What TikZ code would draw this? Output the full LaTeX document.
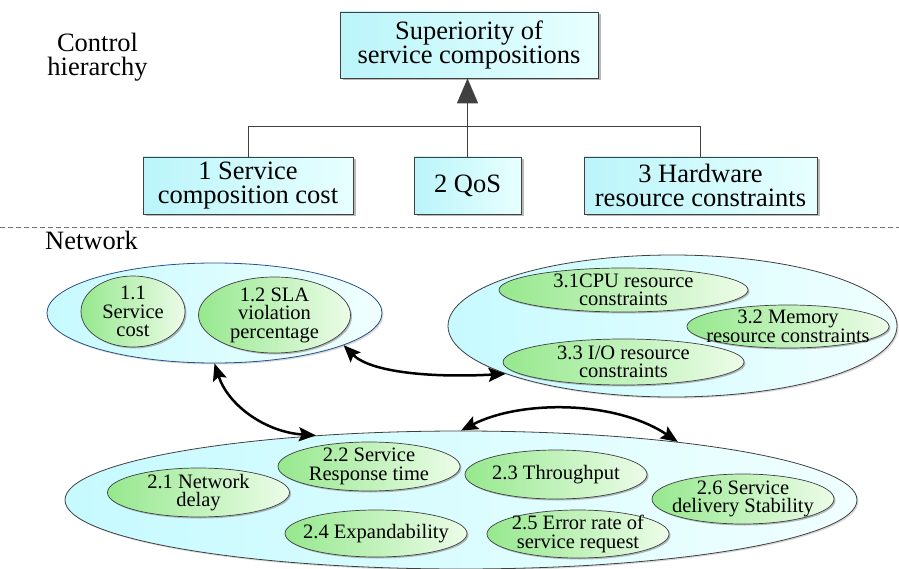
\documentclass[tikz,border=0pt]{standalone}
\usepackage{fontspec}
\setmainfont{Liberation Serif}
\usetikzlibrary{arrows.meta,shadows,shapes.geometric}
\definecolor{boxL}{RGB}{186,245,250}
\definecolor{boxR}{RGB}{232,255,255}
\definecolor{bigL}{RGB}{198,250,255}
\definecolor{bigR}{RGB}{240,255,255}
\definecolor{grnL}{RGB}{150,232,142}
\definecolor{grnR}{RGB}{236,252,232}
\definecolor{blueedge}{RGB}{40,80,140}
\begin{document}
\begin{tikzpicture}[x=1pt,y=-1pt,
  hbox/.style={rectangle, draw=black!75, line width=0.8pt, left color=boxL, right color=boxR,
    inner sep=0pt, align=center, font=\fontsize{26.5}{24}\selectfont,
    drop shadow={shadow xshift=2.5pt, shadow yshift=-2.5pt, fill=black!45, opacity=0.6}},
  bigell/.style={ellipse, draw=black!75, line width=0.8pt, left color=bigL, right color=bigR, inner sep=0pt,
    drop shadow={shadow xshift=1.5pt, shadow yshift=-1.5pt, fill=black!30, opacity=0.5}},
  grnell/.style={ellipse, draw=black!75, line width=0.7pt, left color=grnL, right color=grnR, inner sep=0pt,
    drop shadow={shadow xshift=1.5pt, shadow yshift=-1.5pt, fill=black!45, opacity=0.6}},
  etext/.style={align=center, inner sep=0pt, font=\fontsize{20.5}{18.5}\selectfont},
  lbl/.style={align=center, inner sep=0pt, font=\fontsize{26.5}{24}\selectfont},
  linkline/.style={draw=black!75, line width=0.8pt},
  uparrow/.style={draw=black!75, line width=1.6pt, -{Triangle[length=25pt,width=21pt]}},
  biarrow/.style={draw=black, line width=2.5pt, {Stealth[length=17pt,width=14pt,inset=3pt]}-{Stealth[length=17pt,width=14pt,inset=3pt]}},
  sepline/.style={draw=black!55, line width=0.8pt, dash pattern=on 5pt off 3pt}
]
\useasboundingbox (0,0) rectangle (899,569);

% --- control hierarchy ---
\node[lbl] (ctl) at (97.5,57) {Control\\hierarchy};
\node[hbox, minimum width=258pt, minimum height=66pt] (top) at (469,45) {Superiority of\\service compositions};
\node[hbox, minimum width=210pt, minimum height=57pt] (b1) at (248,185.5) {1 Service\\composition cost};
\node[hbox, minimum width=107pt, minimum height=57pt] (b2) at (467.5,185.5) {2 QoS};
\node[hbox, minimum width=233pt, minimum height=57pt] (b3) at (700.5,185.5) {3 Hardware\\resource constraints};
\coordinate (bar) at (0,126);
\draw[linkline] (b1.north) |- (b3.north |- bar) -- (b3.north);
\draw[uparrow] (b2.north) -- (b2.north |- top.south);

% --- separator ---
\coordinate (sepL) at (0,227);
\coordinate (sepR) at (899,227);
\draw[sepline] (sepL) -- (sepR);

% --- network ---
\node[lbl, anchor=base west] (net) at (45,250) {Network};

\node[bigell, draw=blueedge, minimum width=335pt, minimum height=100pt] (e1) at (214.5,313) {};
\node[grnell, minimum width=104pt, minimum height=71pt] (e11) at (133,311.5) {};
\node[etext] (t11) at (e11.center) {1.1\\Service\\cost};
\node[grnell, minimum width=152pt, minimum height=76pt] (e12) at (274.5,315) {};
\node[etext] (t12) at (e12.center) {1.2 SLA\\violation\\percentage};

\node[bigell, minimum width=449pt, minimum height=142pt] (e3) at (672.5,326) {};
\node[grnell, minimum width=249pt, minimum height=44pt] (e31) at (623.5,290) {};
\node[etext] (t31) at (e31.center) {3.1CPU resource\\constraints};
\node[grnell, minimum width=202pt, minimum height=43pt] (e32) at (788,326.5) {};
\node[etext] (t32) at (e32.center) {3.2 Memory\\resource constraints};
\node[grnell, minimum width=241pt, minimum height=46pt] (e33) at (623.5,362) {};
\node[etext] (t33) at (e33.center) {3.3 I/O resource\\constraints};

\node[bigell, minimum width=792pt, minimum height=138pt] (e2) at (461,500) {};
\node[grnell, minimum width=182pt, minimum height=49pt] (e21) at (198.5,492.5) {};
\node[etext] (t21) at (e21.center) {2.1 Network\\delay};
\node[grnell, minimum width=182pt, minimum height=49pt] (e22) at (369,466.5) {};
\node[etext] (t22) at (e22.center) {2.2 Service\\Response time};
\node[grnell, minimum width=182pt, minimum height=49pt] (e23) at (556,474.5) {};
\node[etext] (t23) at (e23.center) {2.3 Throughput};
\node[grnell, minimum width=182pt, minimum height=47pt] (e24) at (376,533.5) {};
\node[etext] (t24) at (e24.center) {2.4 Expandability};
\node[grnell, minimum width=182pt, minimum height=48pt] (e25) at (578,534) {};
\node[etext] (t25) at (e25.center) {2.5 Error rate of\\service request};
\node[grnell, minimum width=182pt, minimum height=50pt] (e26) at (743,499) {};
\node[etext] (t26) at (e26.center) {2.6 Service\\delivery Stability};

% --- relations ---
\draw[biarrow] (e1.south) .. controls (228,405) and (265,432) .. (e2.156);
\draw[biarrow] (e1.-14) .. controls (370,372) and (430,378) .. (e3.196);
\draw[biarrow] (e2.north) .. controls (520,400) and (615,400) .. (e2.15);
\end{tikzpicture}
\end{document}
